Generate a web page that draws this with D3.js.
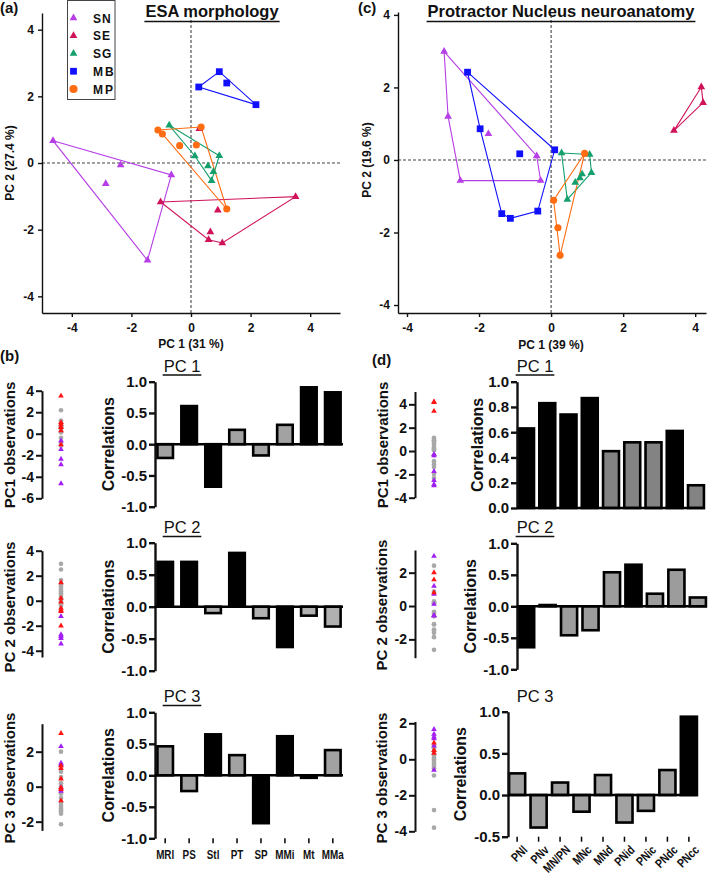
<!DOCTYPE html>
<html><head><meta charset="utf-8">
<script src="https://cdn.jsdelivr.net/npm/d3@7"></script>
<style>
body{margin:0;background:#fff}
svg{display:block}
text{font-family:"Liberation Sans",Arial,Helvetica,sans-serif;fill:#111}
</style>
</head><body>
<script>
// ---------------- DATA ----------------
const groupNames = ["SN","SE","SG","MB","MP"];

// (a) ESA morphology PCA scores [PC1, PC2]
const esaSN = [[-4.63,0.67],[-2.36,-0.06],[-2.86,-0.62],[-0.66,-0.36],[-1.46,-2.92]];
const esaSNHull = [0,3,4];
const esaSE = [[0.28,1.03],[-1.02,-1.17],[3.51,-1.01],[0.9,-1.42],[0.65,-2.07],[0.59,-2.3],[1.05,-2.4]];
const esaSEHull = [1,2,6,5];
const esaSG = [[-0.73,1.13],[0.13,0.21],[0.95,0.22],[0.57,-0.09],[0.75,-0.26],[0.69,-0.53]];
const esaSGHull = [0,2,5,1];
const esaMB = [[0.26,2.28],[0.95,2.74],[1.2,2.4],[2.18,1.75]];
const esaMBHull = [0,1,3];
const esaMP = [[-1.11,0.99],[-0.96,0.87],[-0.38,0.52],[0.18,0.54],[0.34,1.08],[1.2,-1.38]];
const esaMPHull = [0,4,5,1];

// (c) Protractor nucleus PCA scores [PC1, PC2]
const pnSN = [[-2.97,2.99],[-2.86,1.2],[-1.74,0.72],[-0.4,0.11],[-2.52,-0.57],[-0.29,-0.57]];
const pnSNHull = [0,3,5,4,1];
const pnSE = [[4.17,2.01],[4.22,1.58],[3.41,0.81]];
const pnSEHull = [0,1,2];
const pnSG = [[0.29,0.19],[1.07,0.15],[1.12,-0.35],[0.86,-0.39],[0.8,-0.5],[0.67,-0.62],[0.45,-1.09]];
const pnSGHull = [0,1,2,6];
const pnMB = [[-2.32,2.42],[-1.97,0.86],[-0.87,0.17],[0.1,0.28],[-1.37,-1.48],[-1.13,-1.61],[-0.37,-1.41]];
const pnMBHull = [0,3,6,5,4,1];
const pnMP = [[0.93,0.18],[0.07,-1.11],[0.19,-1.87],[0.25,-2.63]];
const pnMPHull = [0,1,3];

// strip observations (gray = other species, red = SE, purple = SN)
const bPC2Gray = [2.95,2.5,1.65,1.35,1.2,1.05,0.9,0.75,0.6,0.45,0.3,0.15,0.0,-0.15,-0.3,-0.4];
const bPC2Red = [1.45,0.2,-0.1,-0.6,-0.75,-0.85,-2.0];
const bPC2Purple = [-1.25,-2.7,-2.85,-3.0,-3.45];
const bPC3Gray = [2.0,1.2,0.85,0.55,0.2,0.0,-0.4,-0.65,-0.9,-1.05,-1.15,-1.25,-1.35,-1.45,-1.55,-2.15];
const bPC3Red = [3.05,1.2,1.05,0.45,-0.05,-0.15,-0.8];
const bPC3Purple = [2.3,1.35,1.25,-0.05,-0.25];
const dPC3Gray = [0.8,0.7,0.6,0.45,0.3,0.2,0.1,0.0,-0.1,-0.2,-0.3,-0.4,-0.5,-0.9,-2.82,-3.8];
const dPC3Red = [0.92,0.5,0.35];
const dPC3Purple = [1.67,1.4,1.25,1.15,0.75,-0.6];

// loadings (correlations); dark = 1 marks strongly loading variables
const esaVars = ["MRl","PS","Stl","PT","SP","MMi","Mt","MMa"];
const esaPC1 = [-0.22,0.61,-0.68,0.23,-0.18,0.31,0.91,0.83];
const esaPC1Dark = [0,1,1,0,0,0,1,1];
const esaPC2 = [0.70,0.70,-0.10,0.84,-0.18,-0.63,-0.14,-0.31];
const esaPC2Dark = [1,1,0,1,0,1,0,0];
const esaPC3 = [0.46,-0.25,0.65,0.32,-0.76,0.62,-0.04,0.40];
const esaPC3Dark = [0,0,1,0,1,1,1,0];

const pnVars = ["PNl","PNv","MN/PN","MNc","MNd","PNid","PNic","PNdc","PNcc"];
const pnPC1 = [0.63,0.83,0.74,0.87,0.45,0.52,0.52,0.61,0.18];
const pnPC1Dark = [1,1,1,1,0,0,0,1,0];
const pnPC2 = [-0.65,0.02,-0.46,-0.38,0.54,0.66,0.20,0.58,0.14];
const pnPC2Dark = [1,0,0,0,0,1,0,0,0];
const pnPC3 = [0.26,-0.39,0.15,-0.20,0.24,-0.33,-0.19,0.30,0.94];
const pnPC3Dark = [0,0,0,0,0,0,0,0,1];

const scatterTicks = [-4,-2,0,2,4];

// ---------------- STYLE ----------------
const COL = {SN:"#b63ee6", SE:"#d0125a", SG:"#14a06c", MB:"#1010ff", MP:"#ff6c12"};
const SYM = {SN:d3.symbolTriangle, SE:d3.symbolTriangle, SG:d3.symbolTriangle, MB:d3.symbolSquare, MP:d3.symbolCircle};
const SYMSIZE = {SN:26, SE:26, SG:26, MB:46, MP:40};
const STRIP = {gray:"#a8a8a8", red:"#ff1414", purple:"#a21ff2"};

const svg = d3.select("body").append("svg").attr("width",709).attr("height",875);

function label(x,y,s,size,weight,anchor,rot){
  const t = svg.append("text").attr("font-size",size).attr("font-weight",weight||"bold")
    .attr("text-anchor",anchor||"middle").text(s);
  if(rot){ t.attr("transform",`translate(${x},${y}) rotate(${rot})`).attr("dy","0.35em"); }
  else t.attr("x",x).attr("y",y);
  return t;
}
function underlined(x,y,s,size,weight,ul){
  const t = label(x,y,s,size,weight,"middle");
  if(ul){
    const w = t.node().getComputedTextLength();
    svg.append("line").attr("x1",x-w/2-1).attr("x2",x+w/2+1).attr("y1",y+ul).attr("y2",y+ul)
      .attr("stroke","#111").attr("stroke-width",1.6);
  }
}
function styleAxis(g,sw,fs){
  g.selectAll(".domain").attr("stroke","#111").attr("stroke-width",sw);
  g.selectAll(".tick line").attr("stroke","#111").attr("stroke-width",sw);
  g.selectAll(".tick text").attr("font-size",fs).attr("font-weight","bold").attr("fill","#111")
    .attr("font-family",'"Liberation Sans",Arial,sans-serif');
}

// ---------------- SCATTER ----------------
function scatter(cfg){
  const x = d3.scaleLinear().domain(cfg.xd).range(cfg.xr);
  const y = d3.scaleLinear().domain(cfg.yd).range(cfg.yr);
  const g = svg.append("g");
  g.append("line").attr("x1",x(0)).attr("x2",x(0)).attr("y1",cfg.yr[0]).attr("y2",cfg.yr[1])
    .attr("stroke","#444").attr("stroke-dasharray","3,2").attr("stroke-width",1.1);
  g.append("line").attr("x1",cfg.xr[0]).attr("x2",cfg.xr[1]).attr("y1",y(0)).attr("y2",y(0))
    .attr("stroke","#444").attr("stroke-dasharray","3,2").attr("stroke-width",1.1);
  const ax = g.append("g").attr("transform",`translate(0,${cfg.yr[0]})`)
    .call(d3.axisBottom(x).tickValues(scatterTicks).tickSize(4).tickSizeOuter(0).tickPadding(6).tickFormat(d=>String(d)));
  styleAxis(ax,1.4,12);
  const ay = g.append("g").attr("transform",`translate(${cfg.xr[0]},0)`)
    .call(d3.axisLeft(y).tickValues(scatterTicks).tickSize(4).tickSizeOuter(0).tickPadding(4).tickFormat(d=>String(d)));
  styleAxis(ay,1.4,12);
  const line = d3.line().x(d=>x(d[0])).y(d=>y(d[1])).curve(d3.curveLinearClosed);
  cfg.groups.forEach(gr=>{
    g.append("path").datum(gr.hull.map(i=>gr.pts[i])).attr("d",line)
      .attr("fill","none").attr("stroke",COL[gr.name]).attr("stroke-width",1.1);
  });
  cfg.groups.forEach(gr=>{
    g.selectAll(null).data(gr.pts).enter().append("path")
      .attr("transform",d=>`translate(${x(d[0])},${y(d[1])})`)
      .attr("d",d3.symbol().type(SYM[gr.name]).size(SYMSIZE[gr.name]))
      .attr("fill",COL[gr.name]);
  });
  label((cfg.xr[0]+cfg.xr[1])/2 + cfg.xlabOff, cfg.xlabY, cfg.xlab, 12, "bold");
  label(cfg.ylabX, y(0), cfg.ylab, 12, "bold", "middle", -90);
}

scatter({xd:[-5,5], xr:[42,340], yd:[-4.5,4.5], yr:[313,13], xlab:"PC 1 (31 %)", xlabY:348, xlabOff:0, ylab:"PC 2 (27.4 %)", ylabX:10,
  groups:[{name:"SN",pts:esaSN,hull:esaSNHull},{name:"SE",pts:esaSE,hull:esaSEHull},{name:"SG",pts:esaSG,hull:esaSGHull},
          {name:"MB",pts:esaMB,hull:esaMBHull},{name:"MP",pts:esaMP,hull:esaMPHull}]});
scatter({xd:[-4.25,4.3], xr:[398,706], yd:[-4.22,4.08], yr:[313,12], xlab:"PC 1 (39 %)", xlabY:349, xlabOff:-1, ylab:"PC 2 (19.6 %)", ylabX:367,
  groups:[{name:"SN",pts:pnSN,hull:pnSNHull},{name:"SE",pts:pnSE,hull:pnSEHull},{name:"SG",pts:pnSG,hull:pnSGHull},
          {name:"MB",pts:pnMB,hull:pnMBHull},{name:"MP",pts:pnMP,hull:pnMPHull}]});

// legend (a)
svg.append("rect").attr("x",67.5).attr("y",0.5).attr("width",47.5).attr("height",99)
  .attr("fill","#fff").attr("stroke","#444").attr("stroke-width",1);
const legRows = d3.scaleLinear().domain([0,4]).range([18,89]);
groupNames.forEach((n,i)=>{
  svg.append("path").attr("transform",`translate(73.5,${legRows(i)})`)
    .attr("d",d3.symbol().type(SYM[n]).size(SYMSIZE[n]*(n==="MP"?1.3:1))).attr("fill",COL[n]);
  svg.append("text").attr("x",93).attr("y",legRows(i)+4.5).attr("font-size",12).attr("font-weight","bold")
    .attr("letter-spacing", n==="MB"||n==="MP" ? 2 : 1).text(n);
});

// titles and panel letters
underlined(212,17,"ESA morphology",16.5,"bold",4.5);
underlined(561,17,"Protractor Nucleus neuroanatomy",16.5,"bold",4.5);
label(0,13,"(a)",15,"bold","start");
label(358,13,"(c)",15,"bold","start");
label(0,361,"(b)",15,"bold","start");
label(372,365,"(d)",15,"bold","start");

// ---------------- STRIPS ----------------
function strip(cfg){
  const y = d3.scaleLinear().domain(cfg.yd).range(cfg.yr);
  const a = svg.append("g").attr("transform",`translate(${cfg.ax},0)`)
    .call(d3.axisLeft(y).tickValues(cfg.ticks).tickSize(6).tickSizeOuter(0).tickPadding(2).tickFormat(d=>String(d)));
  styleAxis(a,2,14);
  const g = svg.append("g");
  g.selectAll(null).data(cfg.gray).enter().append("path")
    .attr("transform",d=>`translate(${cfg.px},${y(d)})`)
    .attr("d",d3.symbol().type(d3.symbolCircle).size(17)).attr("fill",STRIP.gray);
  g.selectAll(null).data(cfg.purple).enter().append("path")
    .attr("transform",d=>`translate(${cfg.px},${y(d)})`)
    .attr("d",d3.symbol().type(d3.symbolTriangle).size(14)).attr("fill",STRIP.purple);
  g.selectAll(null).data(cfg.red).enter().append("path")
    .attr("transform",d=>`translate(${cfg.px},${y(d)})`)
    .attr("d",d3.symbol().type(d3.symbolTriangle).size(14)).attr("fill",STRIP.red);
  label(cfg.labX, cfg.labY, cfg.lab, 15, "bold", "middle", -90);
}
const others = (arrs,k)=>arrs.flatMap(a=>a.map(p=>p[k]));

strip({ax:42, yd:[-6,4], yr:[498.3,390.7], ticks:[4,2,0,-2,-4,-6], px:61,
  gray:others([esaSG,esaMB,esaMP],0), red:esaSE.map(p=>p[0]), purple:esaSN.map(p=>p[0]),
  labX:10, labY:445, lab:"PC1 observations"});
strip({ax:42, yd:[-4.5,4], yr:[657,550.7], ticks:[4,2,0,-2,-4], px:61,
  gray:bPC2Gray, red:bPC2Red, purple:bPC2Purple, labX:10, labY:607, lab:"PC 2 observations"});
strip({ax:42, yd:[-2.5,3.6], yr:[830.4,723.7], ticks:[2,0,-2], px:61,
  gray:bPC3Gray, red:bPC3Red, purple:bPC3Purple, labX:10, labY:778, lab:"PC 3 observations"});
strip({ax:415, yd:[-4,5.1], yr:[497.7,391.5], ticks:[4,2,0,-2,-4], px:434,
  gray:others([pnSG,pnMB,pnMP],0), red:pnSE.map(p=>p[0]), purple:pnSN.map(p=>p[0]),
  labX:383, labY:445, lab:"PC1 observations"});
strip({ax:415, yd:[-3.1,3.36], yr:[657.7,550], ticks:[2,0,-2], px:434,
  gray:others([pnSG,pnMB,pnMP],1), red:pnSE.map(p=>p[1]), purple:pnSN.map(p=>p[1]),
  labX:382, labY:605, lab:"PC 2 observations"});
strip({ax:415, yd:[-4,2.1], yr:[831.3,721.5], ticks:[2,0,-2,-4], px:434,
  gray:dPC3Gray, red:dPC3Red, purple:dPC3Purple, labX:382, labY:778, lab:"PC 3 observations"});

// ---------------- BARS ----------------
function bars(cfg){
  const x = d3.scaleBand().domain(cfg.cats).range(cfg.xr).paddingInner(cfg.pi).paddingOuter(cfg.po);
  const y = d3.scaleLinear().domain(cfg.yd).range(cfg.yr);
  const g = svg.append("g");
  const rows = cfg.cats.map((c,i)=>({c, v:cfg.vals[i], dark:cfg.dark[i]}));
  g.selectAll(null).data(rows).enter().append("rect")
    .attr("x",d=>x(d.c)).attr("width",x.bandwidth())
    .attr("y",d=>y(Math.max(d.v,0))).attr("height",d=>Math.abs(y(d.v)-y(0)))
    .attr("fill",d=>d.dark?"#000":cfg.gray).attr("stroke","#000").attr("stroke-width",2.6);
  const a = svg.append("g").attr("transform",`translate(${cfg.xr[0]},0)`)
    .call(d3.axisLeft(y).tickValues(cfg.ticks).tickSize(6).tickSizeOuter(0).tickPadding(2).tickFormat(d=>d.toFixed(1)));
  styleAxis(a,2.4,15);
  svg.append("line").attr("x1",cfg.xr[0]).attr("x2",cfg.xr[1]).attr("y1",y(0)).attr("y2",y(0))
    .attr("stroke","#000").attr("stroke-width",2.6);
  underlined(cfg.titleX, cfg.titleY, cfg.title, 16.5, "normal", cfg.ul ? 3.5 : 0);
  label(cfg.labX, (cfg.yr[0]+cfg.yr[1])/2, "Correlations", 16, "bold", "middle", -90);
  if(cfg.bottomTicks){
    g.selectAll(null).data(cfg.cats).enter().append("line")
      .attr("x1",d=>x(d)+x.bandwidth()/2).attr("x2",d=>x(d)+x.bandwidth()/2)
      .attr("y1",cfg.yr[0]).attr("y2",cfg.yr[0]+5).attr("stroke","#000").attr("stroke-width",1.5);
  }
  if(cfg.catMode==="flat"){
    g.selectAll(null).data(cfg.cats).enter().append("text")
      .attr("transform",d=>`translate(${x(d)+x.bandwidth()/2},${cfg.yr[0]+21}) scale(0.76,1)`)
      .attr("text-anchor","middle").attr("font-size",13).attr("font-weight","bold").text(d=>d);
  } else if(cfg.catMode==="rot"){
    g.selectAll(null).data(cfg.cats).enter().append("text")
      .attr("transform",d=>`translate(${x(d)+x.bandwidth()/2+11},${cfg.yr[0]+14}) rotate(-45) scale(0.8,1)`)
      .attr("text-anchor","end").attr("font-size",12.5).attr("font-weight","bold").text(d=>d);
  }
}

bars({cats:esaVars, vals:esaPC1, dark:esaPC1Dark, xr:[155,343], pi:0.35, po:0.1, yd:[-1,1], yr:[506.7,381.7],
  ticks:[1,0.5,0,-0.5,-1], gray:"#a2a2a2", title:"PC 1", titleX:182, titleY:371.5, ul:true, labX:108});
bars({cats:esaVars, vals:esaPC2, dark:esaPC2Dark, xr:[155,343], pi:0.35, po:0.1, yd:[-1,1], yr:[670.7,542.7],
  ticks:[1,0.5,0,-0.5,-1], gray:"#b0b0b0", title:"PC 2", titleX:182, titleY:533, ul:true, labX:108});
bars({cats:esaVars, vals:esaPC3, dark:esaPC3Dark, xr:[155,343], pi:0.35, po:0.1, yd:[-1,1], yr:[838.3,712.3],
  ticks:[1,0.5,0,-0.5,-1], gray:"#a2a2a2", title:"PC 3", titleX:182, titleY:702, ul:true, labX:108,
  bottomTicks:true, catMode:"flat"});

bars({cats:pnVars, vals:pnPC1, dark:pnPC1Dark, xr:[517,705], pi:0.25, po:0.05, yd:[0,1], yr:[508,381.7],
  ticks:[1,0.8,0.6,0.4,0.2,0], gray:"#838383", title:"PC 1", titleX:535, titleY:371.5, ul:true, labX:477});
bars({cats:pnVars, vals:pnPC2, dark:pnPC2Dark, xr:[517,707], pi:0.25, po:0.05, yd:[-1,1], yr:[669.3,543.3],
  ticks:[1,0.5,0,-0.5,-1], gray:"#9c9c9c", title:"PC 2", titleX:535, titleY:533, ul:true, labX:470});
bars({cats:pnVars, vals:pnPC3, dark:pnPC3Dark, xr:[508,698], pi:0.25, po:0.05, yd:[-0.5,1], yr:[836.7,711.7],
  ticks:[1,0.5,0,-0.5], gray:"#a2a2a2", title:"PC 3", titleX:535, titleY:701.5, ul:false, labX:460,
  bottomTicks:true, catMode:"rot"});
</script>
</body></html>
